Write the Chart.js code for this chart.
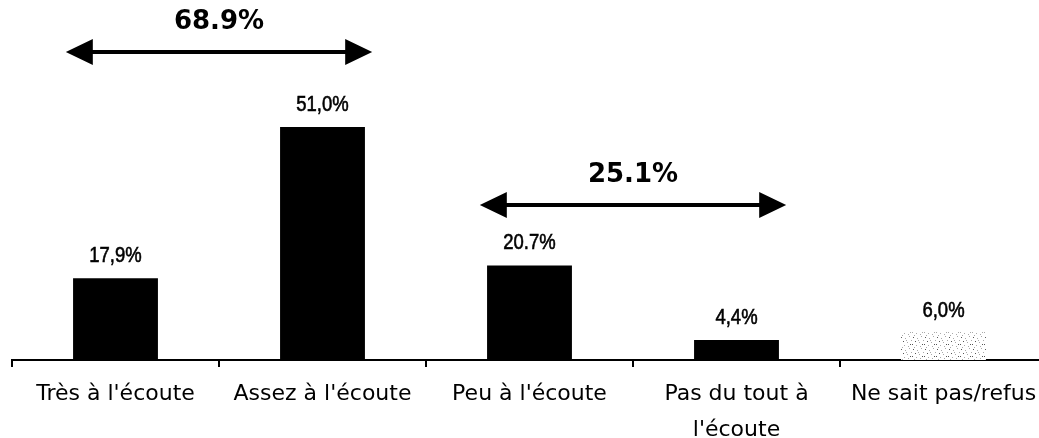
<!DOCTYPE html>
<html>
<head>
<meta charset="utf-8">
<script src="https://cdn.jsdelivr.net/npm/chart.js@4/dist/chart.umd.min.js"></script>
<style>
  html, body { margin: 0; padding: 0; background: #fff; overflow: hidden; }
  #wrap { width: 1050px; height: 438px; }
</style>
</head>
<body>
<div id="wrap"><canvas id="chart" width="1050" height="438"></canvas></div>
<script>
// categories and values
const categories = [
  'Très à l\'écoute',
  'Assez à l\'écoute',
  'Peu à l\'écoute',
  ['Pas du tout à', 'l\'écoute'],
  'Ne sait pas/refus',
];
const shares = [17.9, 51.0, 20.7, 4.4, 6.0];
const shareLabels = ['17,9%', '51,0%', '20.7%', '4,4%', '6,0%'];

// grouped totals shown with double arrows
const groupFrom = [0, 2];
const groupTo = [1, 3];
const groupTotals = ['68.9%', '25.1%'];
const groupLevels = [67.4, 33.9];

const fontLabel = 'DejaVu Sans, Verdana, sans-serif';
const fontValue = '"Liberation Sans", Arial, sans-serif';

// speckled grey fill for the "don't know" bar
function makeSpeckle() {
  const c = document.createElement('canvas');
  c.width = 12;
  c.height = 12;
  const g = c.getContext('2d');
  g.fillStyle = '#fff';
  g.fillRect(0, 0, 12, 12);
  const dots = [[1, 1], [5, 2], [9, 0], [3, 5], [7, 6], [11, 4], [0, 8], [4, 9], [8, 10], [10, 8], [2, 11], [6, 4]];
  dots.forEach(([x, y], i) => {
    g.fillStyle = i % 3 === 0 ? '#555' : '#aaa';
    g.fillRect(x, y, 1, 1);
  });
  return g.createPattern(c, 'repeat');
}

const barColors = shares.map((v, i) => (i === shares.length - 1 ? makeSpeckle() : '#000'));

const annotate = {
  id: 'annotate',
  afterDatasetsDraw(chart) {
    const ctx = chart.ctx;
    const xs = chart.scales.x;
    const ys = chart.scales.y;
    const meta = chart.getDatasetMeta(0);

    ctx.save();
    ctx.fillStyle = '#000';
    ctx.strokeStyle = '#000';
    ctx.textAlign = 'center';
    ctx.textBaseline = 'alphabetic';
    ctx.font = '22px ' + fontValue;
    // squeeze the value labels to look like a narrow face
    meta.data.forEach((bar, i) => {
      ctx.save();
      ctx.translate(bar.x, bar.y - 16);
      ctx.scale(0.84, 1);
      ctx.lineWidth = 0.6;
      ctx.fillText(shareLabels[i], 0, 0);
      ctx.strokeText(shareLabels[i], 0, 0);
      ctx.restore();
    });

    const step = xs.getPixelForValue(1) - xs.getPixelForValue(0);
    groupTotals.forEach((txt, k) => {
      const x1 = xs.getPixelForValue(groupFrom[k]) - step * 0.24;
      const x2 = xs.getPixelForValue(groupTo[k]) + step * 0.24;
      const y = Math.round(ys.getPixelForValue(groupLevels[k]));
      const head = 27;
      const half = 13;
      ctx.lineWidth = 4;
      ctx.beginPath();
      ctx.moveTo(x1 + head - 2, y);
      ctx.lineTo(x2 - head + 2, y);
      ctx.stroke();
      ctx.beginPath();
      ctx.moveTo(x1, y);
      ctx.lineTo(x1 + head, y - half);
      ctx.lineTo(x1 + head, y + half);
      ctx.closePath();
      ctx.moveTo(x2, y);
      ctx.lineTo(x2 - head, y - half);
      ctx.lineTo(x2 - head, y + half);
      ctx.closePath();
      ctx.fill();
      ctx.font = 'bold 26px ' + fontLabel;
      ctx.textBaseline = 'middle';
      ctx.fillText(txt, (x1 + x2) / 2, y - 30);
      ctx.textBaseline = 'alphabetic';
    });
    ctx.restore();
  },
};

new Chart(document.getElementById('chart'), {
  type: 'bar',
  data: {
    labels: categories,
    datasets: [{
      data: shares,
      backgroundColor: barColors,
      borderWidth: 0,
      categoryPercentage: 1,
      barPercentage: 0.41,
    }],
  },
  options: {
    responsive: false,
    animation: false,
    layout: { padding: { left: 12, right: 3, top: 0, bottom: 0 } },
    plugins: {
      legend: { display: false },
      tooltip: { enabled: false },
    },
    scales: {
      x: {
        afterFit(scale) { scale.height = 78; },
        border: { display: true, color: '#000', width: 2 },
        grid: {
          offset: true,
          drawOnChartArea: false,
          drawTicks: true,
          tickLength: 7,
          color: '#000',
          lineWidth: 2,
        },
        ticks: {
          color: '#000',
          padding: 10,
          maxRotation: 0,
          autoSkip: false,
          font: { family: fontLabel, size: 22, lineHeight: 1.6 },
        },
      },
      y: {
        display: false,
        min: 0,
        max: 78.8,
      },
    },
  },
  plugins: [annotate],
});
</script>
</body>
</html>
